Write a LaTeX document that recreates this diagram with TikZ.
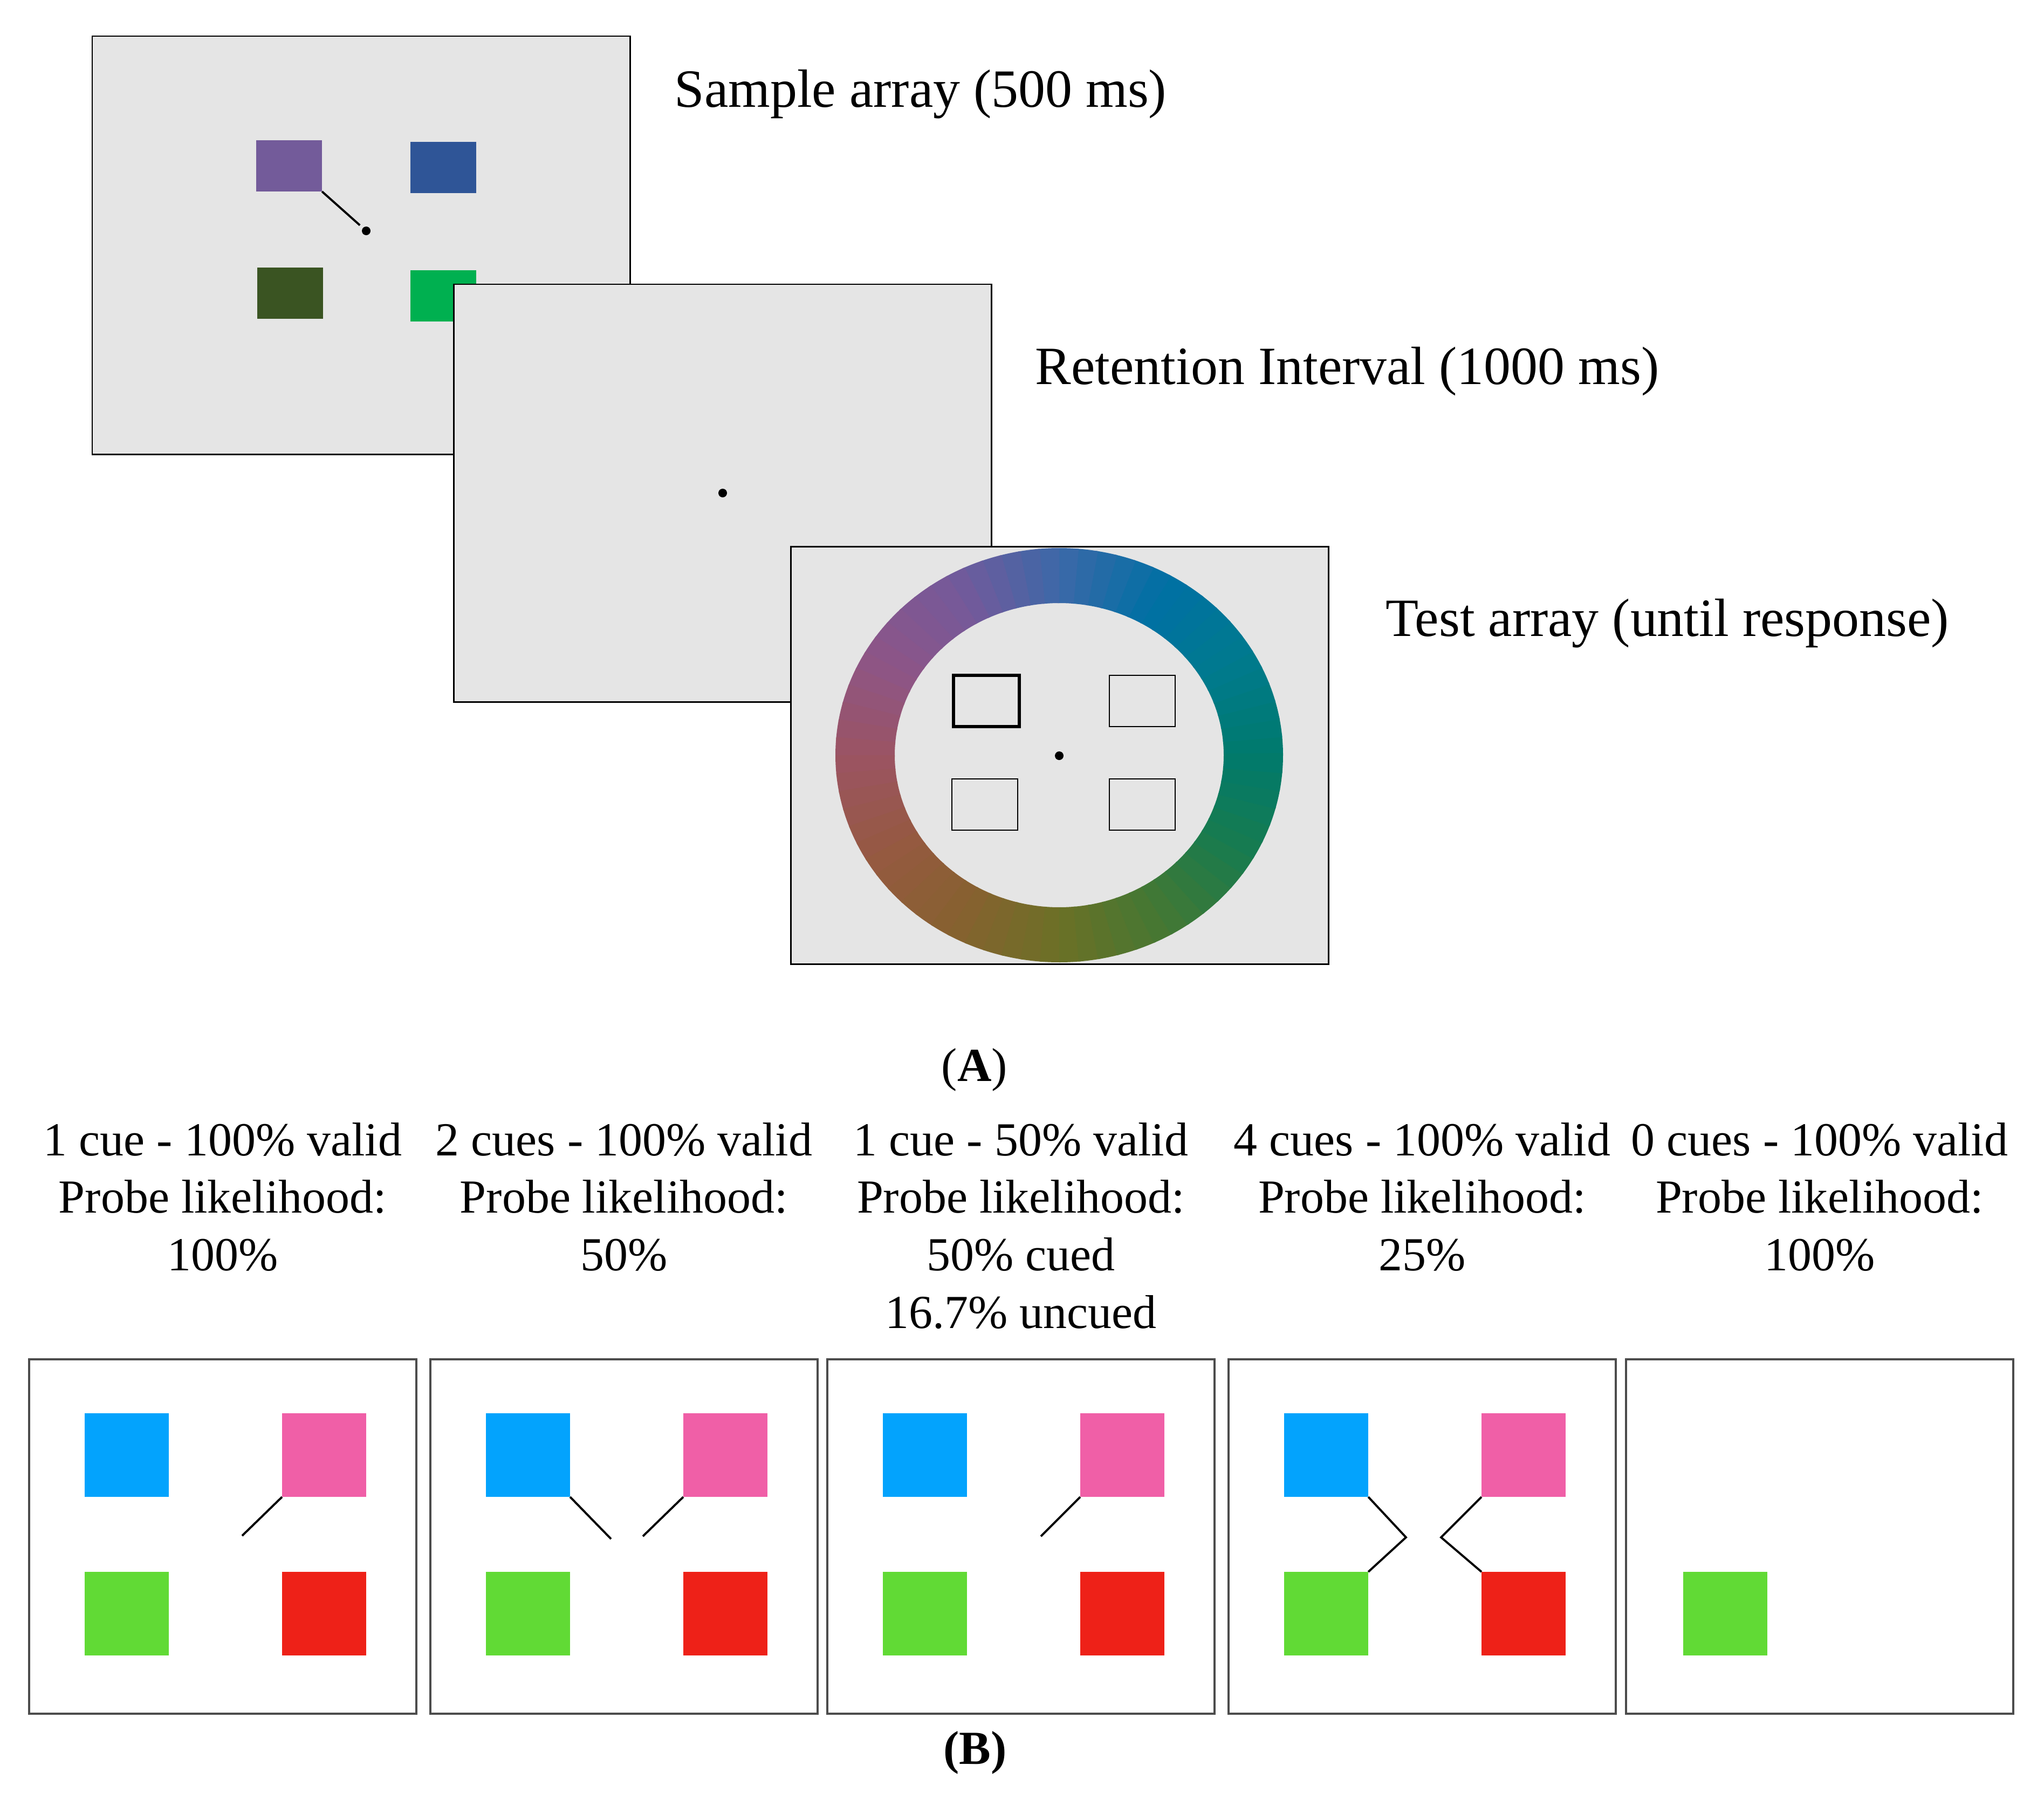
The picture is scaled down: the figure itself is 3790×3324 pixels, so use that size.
\documentclass[tikz,border=0pt]{standalone}
\usepackage{fontspec}
\setmainfont{Liberation Serif}
\usetikzlibrary{calc}

\definecolor{panelgray}{HTML}{E5E5E5}
\definecolor{smpurple}{HTML}{735B9A}
\definecolor{smnavy}{HTML}{2F5597}
\definecolor{smolive}{HTML}{3A5422}
\definecolor{smgreen}{HTML}{00B050}
\definecolor{cueblue}{HTML}{03A3FD}
\definecolor{cuepink}{HTML}{F05FA7}
\definecolor{cuegreen}{HTML}{61DA35}
\definecolor{cuered}{HTML}{EE2118}
% colour wheel, every 30 degrees from the right, counter-clockwise
\definecolor{rc0}{HTML}{007A6C}
\definecolor{rc1}{HTML}{007A8E}
\definecolor{rc2}{HTML}{0070A4}
\definecolor{rc3}{HTML}{3C68A8}
\definecolor{rc4}{HTML}{75599A}
\definecolor{rc5}{HTML}{8D5587}
\definecolor{rc6}{HTML}{9B5463}
\definecolor{rc7}{HTML}{965942}
\definecolor{rc8}{HTML}{876130}
\definecolor{rc9}{HTML}{6C7026}
\definecolor{rc10}{HTML}{447833}
\definecolor{rc11}{HTML}{187B4E}

\tikzset{
  aframe/.style={draw,fill=panelgray,line width=0.85pt},
  bframe/.style={draw=black!70,line width=1pt},
  tsq/.style={minimum width=1.22cm,minimum height=0.95cm,inner sep=0pt,outer sep=0pt,anchor=north west},
  tbox/.style={tsq,draw,line width=0.7pt},
  bsq/.style={minimum width=1.56cm,minimum height=1.55cm,inner sep=0pt,outer sep=0pt,anchor=north west},
  fix/.style={circle,fill,inner sep=0pt,minimum size=0.16cm},
  cue/.style={line width=1.1pt},
  lbl/.style={font=\fontsize{28.4}{34}\selectfont,inner sep=0pt,anchor=base west},
  cond/.style={font=\fontsize{25}{30.4}\selectfont,inner sep=0pt,anchor=base}
}

\begin{document}
\begin{tikzpicture}[x=0.01cm,y=-0.01cm]
\useasboundingbox (0,0) rectangle (3790,3324);

% sample array
\draw[aframe] (171,67) rectangle (1168,842);
\node[tsq,fill=smpurple] (purple) at (475,260) {};
\node[tsq,fill=smnavy] (navy) at (761,263) {};
\node[tsq,fill=smolive] (olive) at (477,496) {};
\node[tsq,fill=smgreen] (green) at (761,501) {};
\node[fix] (fixA) at (679,428) {};
\draw[cue,shorten >=2pt] (purple.south east) -- (fixA);
\node[lbl] (sample) at (1250,199) {Sample array (500 ms)};

% retention
\draw[aframe] (841,527) rectangle (1838,1301);
\node[fix] (fixB) at (1340,914) {};
\node[lbl] (retention) at (1919,712) {Retention Interval (1000 ms)};

% test array
\draw[aframe] (1466,1013) rectangle (2463,1787);
\coordinate (ring) at (1964,1400);
\foreach \i in {0,...,71}{
  \pgfmathtruncatemacro{\k}{div(\i,6)}
  \pgfmathtruncatemacro{\kk}{mod(\k+1,12)}
  \pgfmathtruncatemacro{\p}{100-(mod(\i,6)+0.5)*100/6}
  \colorlet{segcol}{rc\k!\p!rc\kk}
  \pgfmathsetmacro{\a}{5*\i}
  \pgfmathsetmacro{\b}{5*\i+5.6}
  \fill[segcol] ($(ring)+(-\a:415 and 384)$) arc[start angle=-\a,end angle=-\b,x radius=415,y radius=384]
    -- ($(ring)+(-\b:305 and 282)$) arc[start angle=-\b,end angle=-\a,x radius=305,y radius=282] -- cycle;
}
\node[tbox,line width=1.6pt] (probeTL) at (1768,1252) {};
\node[tbox] (probeTR) at (2057,1252) {};
\node[tbox] (probeBL) at (1765,1444) {};
\node[tbox] (probeBR) at (2057,1444) {};
\node[fix] (fixC) at (1964,1401) {};
\node[lbl] (test) at (2569,1179) {Test array (until response)};

\node[cond] (partA) at (1807,2004) {(\textbf{A})};

% cue conditions
\node[cond] (cond1) at (413,2142) {\begin{tabular}[t]{@{}c@{}}1 cue - 100\% valid\\Probe likelihood:\\100\%\end{tabular}};
\node[cond] (cond2) at (1157,2142) {\begin{tabular}[t]{@{}c@{}}2 cues - 100\% valid\\Probe likelihood:\\50\%\end{tabular}};
\node[cond] (cond3) at (1893,2142) {\begin{tabular}[t]{@{}c@{}}1 cue - 50\% valid\\Probe likelihood:\\50\% cued\\16.7\% uncued\end{tabular}};
\node[cond] (cond4) at (2637,2142) {\begin{tabular}[t]{@{}c@{}}4 cues - 100\% valid\\Probe likelihood:\\25\%\end{tabular}};
\node[cond] (cond5) at (3374,2142) {\begin{tabular}[t]{@{}c@{}}0 cues - 100\% valid\\Probe likelihood:\\100\%\end{tabular}};

\foreach \fx/\n in {54/1,798/2,1534/3,2278/4}{
  \draw[bframe] (\fx,2520) rectangle ++(718,657);
  \node[bsq,fill=cueblue] (blue\n) at (\fx+103,2620) {};
  \node[bsq,fill=cuepink] (pink\n) at (\fx+469,2620) {};
  \node[bsq,fill=cuegreen] (green\n) at (\fx+103,2914) {};
  \node[bsq,fill=cuered] (red\n) at (\fx+469,2914) {};
}
\draw[bframe] (3015,2520) rectangle ++(718,657);
\node[bsq,fill=cuegreen] (green5) at (3121,2914) {};

\coordinate (k1) at (449,2847);
\coordinate (k2a) at (1133,2853);
\coordinate (k2b) at (1192,2848);
\coordinate (k3) at (1930,2848);
\coordinate (k4a) at (2607,2850);
\coordinate (k4b) at (2672,2850);
\draw[cue] (pink1.south west) -- (k1);
\draw[cue] (blue2.south east) -- (k2a);
\draw[cue] (pink2.south west) -- (k2b);
\draw[cue] (pink3.south west) -- (k3);
\draw[cue] (blue4.south east) -- (k4a) -- (green4.north east);
\draw[cue] (pink4.south west) -- (k4b) -- (red4.north west);

\node[cond] (partB) at (1808,3270) {\textbf{(B)}};
\end{tikzpicture}
\end{document}
